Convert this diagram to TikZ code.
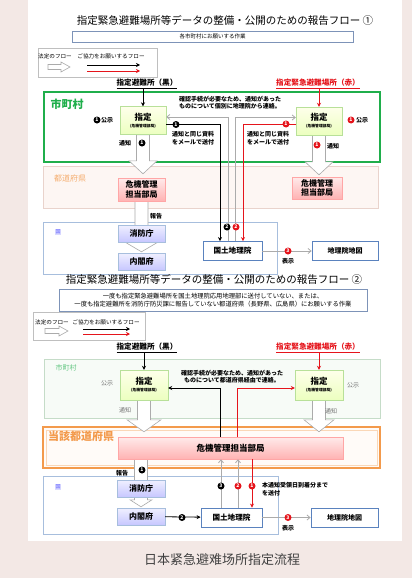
\documentclass[tikz,border=0pt]{standalone}
\usepackage{fontspec}
\setmainfont{Noto Sans CJK JP}
\newfontfamily\cnfont{Noto Sans CJK SC}
\usetikzlibrary{arrows.meta,calc}

\definecolor{bgpink}{HTML}{F3E8E5}
\definecolor{kgreen}{HTML}{1FAE4B}
\definecolor{lgreen}{HTML}{C5DCC8}
\definecolor{lgfill}{HTML}{F7FBF7}
\definecolor{bandpink}{HTML}{E9D3CC}
\definecolor{bandfill}{HTML}{FDF6F3}
\definecolor{kunib}{HTML}{A7BEDD}
\definecolor{orng}{HTML}{F39A4C}
\definecolor{ofill}{HTML}{FFFBF8}
\definecolor{taskb}{HTML}{7D93B8}
\definecolor{gsib}{HTML}{5A82BE}
\definecolor{redc}{HTML}{E5141B}
\definecolor{grayarr}{HTML}{ABABAB}

\pgfdeclarelayer{back}
\pgfdeclarelayer{mid}
\pgfsetlayers{back,mid,main}

\begin{document}
\begin{tikzpicture}[x=1pt,y=-1pt,
  txt/.style={inner sep=0pt, font=\fontsize{6}{7.5}\selectfont\bfseries},
  gtxt/.style={inner sep=0pt, text=black!55, font=\fontsize{6}{7.5}\selectfont},
  hd/.style={inner sep=0pt, font=\fontsize{7.6}{9}\selectfont\bfseries},
  sitei/.style={draw=green!40!olive!40, top color=green!5!yellow!8, bottom color=green!30!yellow!25,
    minimum width=46, minimum height=28, inner sep=0pt, align=center, font=\fontsize{8.5}{9}\selectfont\bfseries},
  kiki/.style={draw=red!35, top color=red!8, bottom color=red!30, inner sep=0pt, align=center,
    font=\fontsize{8}{9.5}\selectfont\bfseries},
  kuni/.style={draw=kunib, top color=blue!6, bottom color=blue!22, minimum width=47, minimum height=17,
    inner sep=0pt, font=\fontsize{8}{9}\selectfont\bfseries},
  gsibox/.style={draw=gsib, line width=0.8pt, fill=white, minimum height=19, inner sep=0pt,
    font=\fontsize{7.6}{9}\selectfont\bfseries},
  num/.style={circle, fill=black, text=white, inner sep=0pt, minimum size=7,
    font=\fontsize{5}{5}\selectfont\bfseries},
  rnum/.style={num, fill=redc},
  blk/.style={line width=0.8pt, -{Stealth[length=4pt,width=4pt]}},
  redarr/.style={blk, redc},
  gry/.style={grayarr, line width=0.8pt, -{Straight Barb[length=3pt,width=5pt]}},
  hollow/.style={draw=grayarr, fill=white, line width=0.6pt},
  kunilbl/.style={fill=blue!15, text=blue!60, inner sep=0.6pt, font=\fontsize{5}{5}\selectfont}]
\useasboundingbox (0,0) rectangle (412,578);

% page and bands
\begin{pgfonlayer}{back}
\fill[bgpink] (0,0) rectangle (412,578);
\fill[white] (28,0) rectangle (402,541);
\draw[kgreen, line width=1.5pt, fill=white] (44,92) rectangle (380,162);
\draw[bandpink, fill=bandfill] (43,166) rectangle (378,208);
\draw[kunib, fill=white] (43,222) rectangle (277,274);
\draw[lgreen, fill=lgfill] (44,359) rectangle (380,418);
\draw[orng, line width=1.5pt, fill=ofill] (43,427) rectangle (380,468);
\draw[orng!40] (46,430) rectangle (377,465);
\draw[kunib, fill=white] (43,476) rectangle (278,534);
\end{pgfonlayer}

% ---------------- flow 1 ----------------
\node (title1) at (225,20) {\fontsize{10.5}{12}\selectfont 指定緊急避難場所等データの整備・公開のための報告フロー ①};
\node[draw=taskb, line width=0.9pt, minimum width=281, minimum height=11, inner sep=0pt] (task1) at (212.5,36.5)
  {\fontsize{5.5}{6}\selectfont 各市町村にお願いする作業};

% legend
\draw[black!25] (38,48) rectangle (157,77);
\node[inner sep=0pt, font=\fontsize{5.6}{6}\selectfont] (lg1a) at (55,56) {法定のフロー};
\node[inner sep=0pt, font=\fontsize{5.6}{6}\selectfont] (lg1b) at (111,56) {ご協力をお願いするフロー};
\draw[hollow] (48,64.5) -- (61,64.5) -- (61,62) -- (70,67) -- (61,72) -- (61,69.5) -- (48,69.5) -- cycle;
\draw[blk] (87,65) -- (140,65);
\draw[redarr] (87,71) -- (140,71);

\node[hd] (hd1L) at (147,84) {\underline{指定避難所（黒）}};
\node[hd, text=redc] (hd1R) at (318,84) {\underline{指定緊急避難場所（赤）}};

\node[inner sep=0pt, text=kgreen, font=\fontsize{11}{12}\selectfont\bfseries] (mura1) at (67,104) {市町村};
\node[sitei] (s1L) at (143,120.5) {指定\\[-2pt]{\fontsize{3.8}{4.5}\selectfont (危機管理部局)}};
\node[sitei] (s1R) at (319,121) {指定\\[-2pt]{\fontsize{3.8}{4.5}\selectfont (危機管理部局)}};
\draw[blk] (hd1L.south -| s1L.north) -- (s1L.north);
\draw[redarr] (hd1R.south -| s1R.north) -- (s1R.north);

\node[txt, align=center] (conf1) at (230,102.5) {確認手続が必要なため、通知があった\\ものについて個別に地理院から連絡。};

\node[inner sep=0pt, text=orng!80, font=\fontsize{8}{9}\selectfont] (pref1) at (70,178) {都道府県};
\node[kiki, minimum width=47, minimum height=23] (k1L) at (141.5,189.5) {危機管理\\担当部局};
\node[kiki, minimum width=50, minimum height=22] (k1R) at (317,188) {危機管理\\担当部局};

\node[kunilbl] (kuni1) at (58,232) {国};
\node[kuni] (sc1) at (141.5,233.5) {消防庁};
\node[kuni] (nk1) at (141.5,261.5) {内閣府};
\node[gsibox, minimum width=59] (gsi1) at (232.5,251) {国土地理院};
\node[gsibox, minimum width=66, font=\fontsize{7}{8}\selectfont\bfseries] (map1) at (345,251) {地理院地図};

% connectors
\draw[blk] ([yshift=-4pt]s1L.east) -| ([xshift=-12.5pt]gsi1.north);
\draw[gry] ([xshift=-4.5pt]gsi1.north) |- ([yshift=3.5pt]s1L.east);
\draw[gry] ([xshift=2.5pt]gsi1.north) |- ([yshift=3.5pt]s1R.west);
\draw[redarr] ([yshift=-3pt]s1R.west) -| ([xshift=10.5pt]gsi1.north);
\draw[gry] (gsi1) -- (map1);

\node[num] at (176,124.5) {1};
\node[rnum] at (286,124) {1};
\node[txt, align=left, anchor=west] (mail1L) at (172,138) {通知と同じ資料\\をメールで送付};
\node[txt, align=left, anchor=west] (mail1R) at (247,138) {通知と同じ資料\\をメールで送付};
\node[num] at (97,120) {1};
\node[txt] at (107,120) {公示};
\node[rnum] at (351,120) {1};
\node[txt] at (362,120) {公示};
\node[txt] at (125,143) {通知};
\node[num] at (142,143) {1};
\node[rnum] at (317,145) {1};
\node[txt] at (333,146) {通知};
\node[txt] at (156,216) {報告};
\node[num] at (227,227) {2};
\node[rnum] at (236,227) {2};
\node[rnum] at (288,251) {3};
\node[txt] at (288,261) {表示};

% ---------------- flow 2 ----------------
\node (title2) at (214,279) {\fontsize{10.5}{12}\selectfont 指定緊急避難場所等データの整備・公開のための報告フロー ②};
\node[draw=taskb, line width=0.9pt, minimum width=308, minimum height=22, inner sep=0pt, align=center,
  font=\fontsize{6.3}{8.5}\selectfont] (task2) at (213,300)
  {一度も指定緊急避難場所を国土地理院応用地理部に送付していない、または、\\一度も指定避難所を消防庁防災課に報告していない都道府県（長野県、広島県）にお願いする作業};

% legend
\draw[black!25] (33,312) rectangle (145,340);
\node[inner sep=0pt, font=\fontsize{5.6}{6}\selectfont] (lg2a) at (52,322) {法定のフロー};
\node[inner sep=0pt, font=\fontsize{5.6}{6}\selectfont] (lg2b) at (106,322) {ご協力をお願いするフロー};
\draw[hollow] (45,328.5) -- (59,328.5) -- (59,326) -- (68,331) -- (59,336) -- (59,333.5) -- (45,333.5) -- cycle;
\draw[blk] (83,329) -- (130,329);
\draw[redarr] (83,334) -- (130,334);

\node[hd] (hd2L) at (147,348) {\underline{指定避難所（黒）}};
\node[hd, text=redc] (hd2R) at (318,348) {\underline{指定緊急避難場所（赤）}};

\node[inner sep=0pt, text=kgreen!70, font=\fontsize{7}{8}\selectfont] (mura2) at (66,368) {市町村};
\node[sitei, minimum width=48, minimum height=30] (s2L) at (144,385) {指定\\[-2pt]{\fontsize{3.8}{4.5}\selectfont (危機管理部局)}};
\node[sitei, minimum width=48, minimum height=30] (s2R) at (319,385) {指定\\[-2pt]{\fontsize{3.8}{4.5}\selectfont (危機管理部局)}};
\draw[blk] (hd2L.south -| s2L.north) -- (s2L.north);
\draw[redarr] (hd2R.south -| s2R.north) -- (s2R.north);

\node[txt, align=center] (conf2) at (232,376.5) {確認手続が必要なため、通知があった\\ものについて都道府県経由で連絡。};
\node[gtxt] at (107,383) {公示};
\node[gtxt] at (353,385) {公示};
\node[gtxt] at (125,410) {通知};
\node[gtxt] at (331,411) {通知};

\node[inner sep=0pt, text=orng, font=\fontsize{11}{12}\selectfont\bfseries] (pref2) at (81,436) {当該都道府県};
\node[kiki, minimum width=225, minimum height=22, font=\fontsize{8.5}{9}\selectfont\bfseries] (kk2) at (230.5,448) {危機管理担当部局};

\node[kunilbl] (kuni2) at (58,487) {国};
\node[kuni, minimum width=48] (sc2) at (141,488.5) {消防庁};
\node[kuni, minimum width=48] (nk2) at (141,516.5) {内閣府};
\node[gsibox, minimum width=61] (gsi2) at (231.5,517.5) {国土地理院};
\node[gsibox, minimum width=67, font=\fontsize{7}{8}\selectfont\bfseries] (map2) at (344.5,517.5) {地理院地図};

% connectors
\draw[blk] ([xshift=-10.5pt]kk2.north) |- ([yshift=-3pt]s2L.east);
\draw[redarr] ([xshift=6.5pt]kk2.north) |- ([yshift=-3pt]s2R.west);
\draw[blk] (nk2) -- (gsi2);
\draw[gry] ([xshift=-10.5pt]gsi2.north) -- ([xshift=-10.5pt]gsi2.north |- kk2.south);
\draw[gry] ([xshift=6.5pt]gsi2.north) -- ([xshift=6.5pt]gsi2.north |- kk2.south);
\draw[redarr] ([xshift=20.5pt]gsi2.north |- kk2.south) -- ([xshift=20.5pt]gsi2.north);
\draw[gry] (gsi2) -- (map2);

\node[txt] at (122,473) {報告};
\node[num] at (142,470) {1};
\node[num] at (182,517.5) {2};
\node[num] at (221,486) {3};
\node[rnum] at (238,486) {2};
\node[rnum] at (252,486) {1};
\node[txt, align=left, anchor=west] (note2) at (262,489) {本通知受領日到着分まで\\を送付};
\node[rnum] at (288,517.5) {3};
\node[txt] at (288,528) {表示};

% hollow arrows
\begin{pgfonlayer}{mid}
\foreach \src/\dst/\col/\gp/\hl/\hw in {s1L/k1L/s1L/4pt/13pt/14pt, s1R/k1R/s1R/2pt/13pt/14pt,
    k1L/nk1/nk1/1pt/10pt/17pt, s2L/kk2/s2L/5pt/12pt/17pt, s2R/kk2/s2R/5pt/12pt/15pt, kk2/nk2/nk2/1pt/7pt/11pt}
  \draw[hollow] let \p1=(\src.south -| \col), \p2=(\dst.north) in
    (\x1-6.5pt,\y1) -- (\x1-6.5pt,\y2+\gp+\hl) -- (\x1-\hw,\y2+\gp+\hl) -- (\x1,\y2+\gp)
    -- (\x1+\hw,\y2+\gp+\hl) -- (\x1+6.5pt,\y2+\gp+\hl) -- (\x1+6.5pt,\y1) -- cycle;
\end{pgfonlayer}

\node[text=black!75, font=\cnfont\fontsize{13}{14}\selectfont] (caption) at (222,560) {日本紧急避难场所指定流程};

\end{tikzpicture}
\end{document}
